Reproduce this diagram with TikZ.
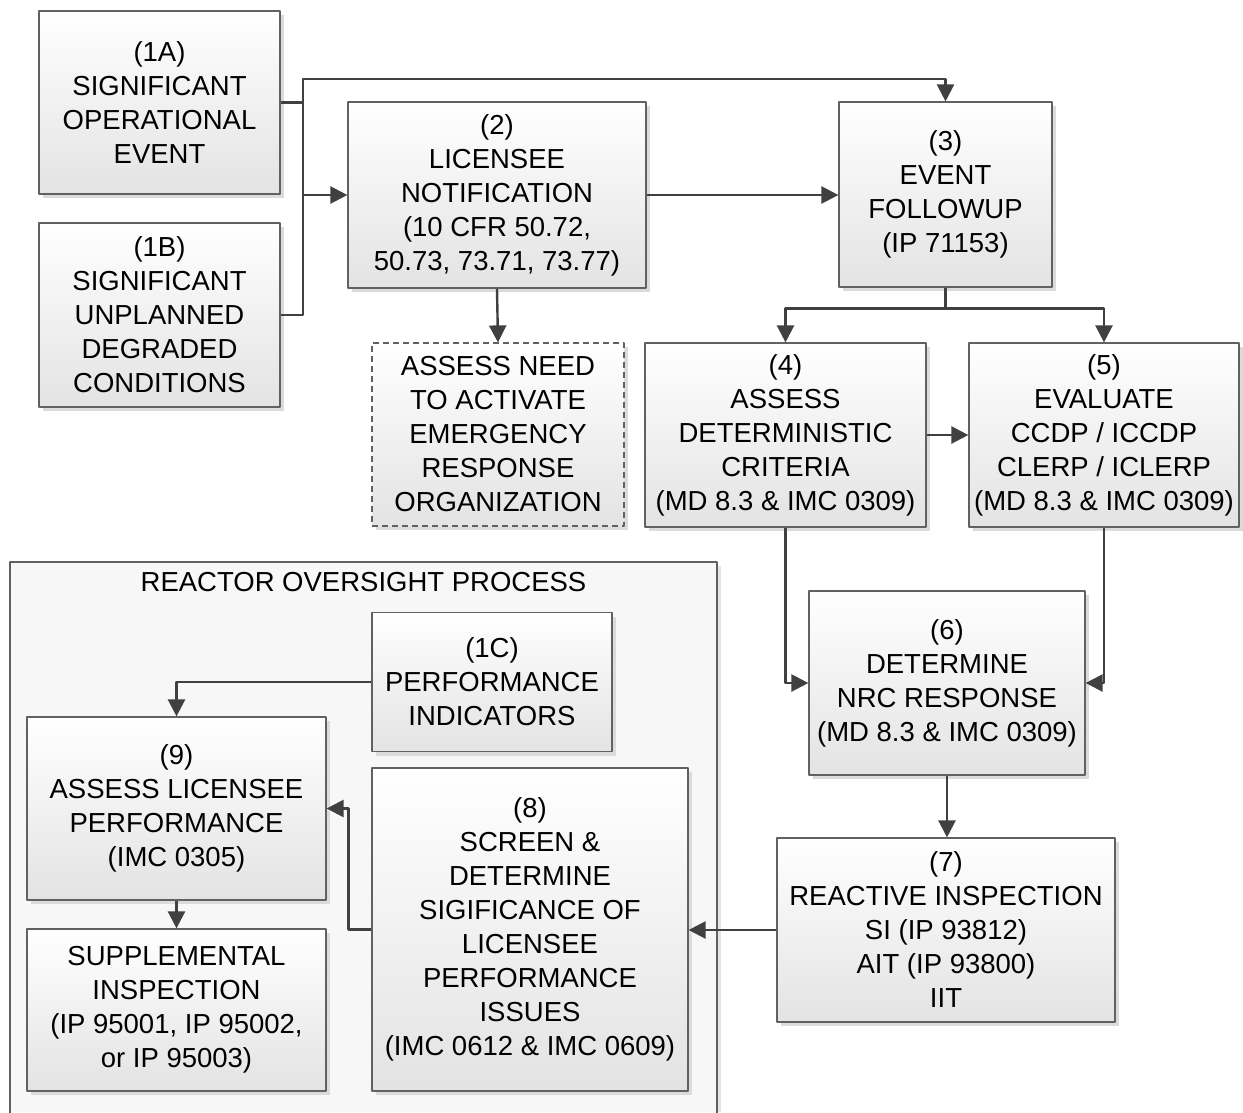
\documentclass[tikz,border=0pt]{standalone}
\usepackage{fontspec}
\setmainfont{Liberation Sans}
\usepackage{tikz}
\usetikzlibrary{arrows.meta}
\usetikzlibrary{shadows}

\begin{document}
\begin{tikzpicture}[x=1pt, y=-1pt, line cap=round, line join=round, >={Triangle[length=17pt,width=17pt]},
  font=\fontsize{27.5pt}{34pt}\selectfont,
  box/.style={draw=black!62, line width=1.2pt, top color=white, bottom color=black!11, align=center, inner sep=0pt,
    drop shadow={shadow xshift=4pt, shadow yshift=-4pt, fill=black!14, opacity=1}},
  dbox/.style={box, dash pattern=on 6pt off 4pt, line cap=butt},
  link/.style={draw=black!75, line width=2.4pt, line cap=butt, ->},
  wire/.style={draw=black!75, line width=2.4pt, line cap=butt}]
  \useasboundingbox (0,0) rectangle (1243,1112);
  % reactor oversight process frame
  \fill[black!3] (10,562) rectangle (717,1112);
  \fill[black!10] (717,566) rectangle (721,1112);
  \draw[black!62, line width=1.2pt] (10,1113) |- (717,562) -- (717,1113);
  \node (rop) at (363.5,582) {REACTOR OVERSIGHT PROCESS};

  \node[box, minimum width=241pt, minimum height=183pt] (n1a) at (159.5,102.5) {(1A)\\SIGNIFICANT\\OPERATIONAL\\EVENT};
  \node[box, minimum width=241pt, minimum height=184pt] (n1b) at (159.5,315) {(1B)\\SIGNIFICANT\\UNPLANNED\\DEGRADED\\CONDITIONS};
  \node[box, minimum width=298pt, minimum height=186pt] (n2) at (497,195) {(2)\\LICENSEE\\NOTIFICATION\\(10 CFR 50.72,\\50.73, 73.71, 73.77)};
  \node[dbox, minimum width=252pt, minimum height=183pt] (ero) at (498,434.5) {ASSESS NEED\\TO ACTIVATE\\EMERGENCY\\RESPONSE\\ORGANIZATION};
  \node[box, minimum width=213pt, minimum height=185pt] (n3) at (945.5,194.5) {(3)\\EVENT\\FOLLOWUP\\(IP 71153)};
  \node[box, minimum width=281pt, minimum height=184pt] (n4) at (785.5,435) {(4)\\ASSESS\\DETERMINISTIC\\CRITERIA\\(MD 8.3 \& IMC 0309)};
  \node[box, minimum width=270pt, minimum height=184pt] (n5) at (1104,435) {(5)\\EVALUATE\\CCDP / ICCDP\\CLERP / ICLERP\\(MD 8.3 \& IMC 0309)};
  \node[box, minimum width=276pt, minimum height=184pt] (n6) at (947,683) {(6)\\DETERMINE\\NRC RESPONSE\\(MD 8.3 \& IMC 0309)};
  \node[box, minimum width=338pt, minimum height=184pt] (n7) at (946,930) {(7)\\REACTIVE INSPECTION\\SI (IP 93812)\\AIT (IP 93800)\\IIT};
  \node[box, minimum width=240pt, minimum height=139pt] (n1c) at (492,682) {(1C)\\PERFORMANCE\\INDICATORS};
  \node[box, minimum width=299pt, minimum height=183pt] (n9) at (176.5,808.5) {(9)\\ASSESS LICENSEE\\PERFORMANCE\\(IMC 0305)};
  \node[box, minimum width=299pt, minimum height=162pt] (nsup) at (176.5,1010) {SUPPLEMENTAL\\INSPECTION\\(IP 95001, IP 95002,\\or IP 95003)};
  \node[box, minimum width=316pt, minimum height=323pt] (n8) at (530,929.5) {(8)\\SCREEN \&\\DETERMINE\\SIGIFICANCE OF\\LICENSEE\\PERFORMANCE\\ISSUES\\(IMC 0612 \& IMC 0609)};

  \coordinate (jn) at (303,79);
  \draw[link] (n1a.east) -| (jn) -| (n3.north);
  \draw[wire] (n1b.east) -| (jn);
  \draw[link] (jn |- n2.west) -- (n2.west);
  \draw[link] (n2.south) -- (ero.north);
  \draw[link] (n2.east) -- (n3.west |- n2.east);
  \draw[link] (n3.south) -- ++(0,21) -| (n4.north);
  \draw[link] (n3.south) -- ++(0,21) -| (n5.north);
  \draw[link] (n4.east) -- (n5.west |- n4.east);
  \draw[link] (n4.south) |- (n6.west);
  \draw[link] (n5.south) |- (n6.east);
  \draw[link] (n6.south) -- (n7.north -| n6.south);
  \draw[link] (n7.west) -- (n8.east |- n7.west);
  \draw[link] (n8.west) -- ++(-23,0) |- (n9.east);
  \draw[link] (n1c.west) -| (n9.north);
  \draw[link] (n9.south) -- (nsup.north);
\end{tikzpicture}
\end{document}
